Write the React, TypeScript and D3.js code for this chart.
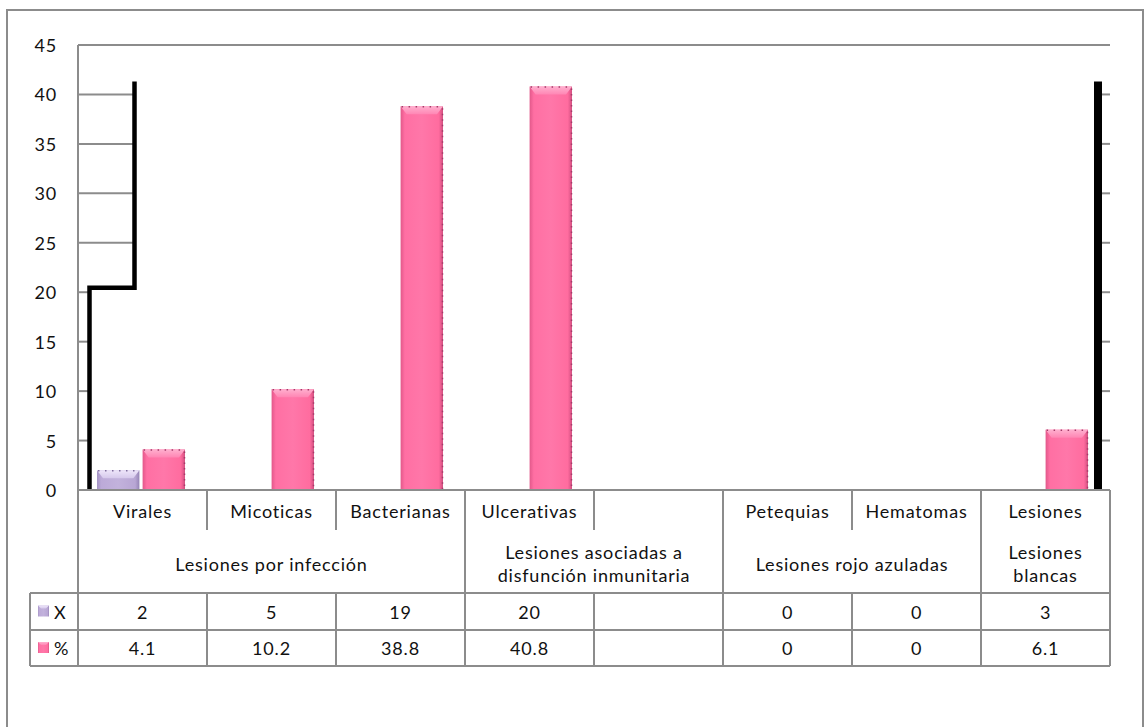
import React from "react";
import * as d3 from "d3";

// Subcategory columns (the fifth column is intentionally unnamed)
const categories = ["Virales", "Micoticas", "Bacterianas", "Ulcerativas", "", "Petequias", "Hematomas", "Lesiones"];
// Group headers and how many columns each one spans
const groupLabels = [["Lesiones por infección"], ["Lesiones asociadas a", "disfunción inmunitaria"], ["Lesiones rojo azuladas"], ["Lesiones", "blancas"]];
const groupSpans = [3, 2, 2, 1];
// Series
const seriesNames = ["X", "%"];
const countValues: (number | null)[] = [2, 5, 19, 20, null, 0, 0, 3];
const percentValues: (number | null)[] = [4.1, 10.2, 38.8, 40.8, null, 0, 0, 6.1];
const countBarShown = [true, false, false, false, false, false, false, false];
// Axis ticks
const yTicks = [0, 5, 10, 15, 20, 25, 30, 35, 40, 45];
// Levels of the black frame drawn over the plot
const frameLowLevel = 20.45;
const frameHighLevel = 41.3;

const FONT = "Lato, 'Open Sans', sans-serif";
const GRID = "#8c8c8c";

export default function App() {
  const W = 1146;
  const H = 727;
  const left = 78;
  const right = 1110;
  const top = 45;
  const base = 490;

  const x = d3
    .scaleBand<string>()
    .domain(categories.map((_, i) => String(i)))
    .range([left, right])
    .padding(0);
  const bw = x.bandwidth();
  const inner = d3.scaleBand<string>().domain(seriesNames).range([-45.5, 42.5]).paddingInner(0.07);
  const y = d3.scaleLinear().domain([0, 45]).range([base, top]);

  const catRowBottom = 530;
  const rowTop = 593;
  const rowMid = 630;
  const rowBot = 666;
  const tableLeft = 30;

  const colX = (i: number) => x(String(i)) as number;
  const center = (i: number) => colX(i) + bw / 2;

  const groupStarts: number[] = [];
  let acc = 0;
  groupSpans.forEach((s) => {
    groupStarts.push(acc);
    acc += s;
  });

  const frameLeftX = colX(0) + 11.5;
  const frameStepX = colX(0) + 56.5;
  const frameRightX = colX(7) + bw - 12;
  const yLow = y(frameLowLevel);
  const yHigh = y(frameHighLevel);

  // only the short stubs of each gridline that lie outside the framed panel
  const leftStubs = yTicks
    .filter((t) => t > 0 && t < frameHighLevel)
    .map((t) => ({ t, x2: t > frameLowLevel ? frameStepX : frameLeftX }));
  const rightStubs = yTicks.filter((t) => t > 0 && t < frameHighLevel);
  const fullLines = yTicks.filter((t) => t > frameHighLevel);

  const textStyle: React.CSSProperties = { fontFamily: FONT, fontSize: 18, letterSpacing: 0.8, fill: "#111" };

  const renderBar = (i: number, value: number, key: string, series: string) => {
    const bx = center(i) + (inner(series) as number);
    const w = inner.bandwidth();
    const by = y(value);
    const h = base - by;
    const isPink = series === "%";
    const body = isPink ? "url(#pinkBody)" : "url(#lavBody)";
    const cap = isPink ? "url(#pinkCap)" : "url(#lavCap)";
    const dot = isPink ? "#a53a68" : "#7e6d9c";
    const capH = Math.min(8, h);
    return (
      <g key={key}>
        <rect x={bx} y={by} width={w} height={h} fill={body} />
        <path d={`M${bx} ${by} H${bx + w} L${bx + w - 6} ${by + capH} H${bx + 6} Z`} fill={cap} />
        <line x1={bx + 1} x2={bx + w} y1={by + 0.5} y2={by + 0.5} stroke={dot} strokeWidth={1.5} strokeDasharray="1.5,5.5" />
        {isPink && (
          <line x1={bx + w - 0.5} x2={bx + w - 0.5} y1={by + 2} y2={base} stroke={dot} strokeWidth={1.5} strokeDasharray="1.5,4" />
        )}
      </g>
    );
  };

  return (
    <div style={{ position: "absolute", left: 0, top: 0, width: W, height: H, background: "#fff" }}>
      <svg width={W} height={H} viewBox={`0 0 ${W} ${H}`} style={{ display: "block" }}>
        <defs>
          <linearGradient id="pinkBody" x1="0" x2="1" y1="0" y2="0">
            <stop offset="0" stopColor="#e2588a" />
            <stop offset="0.1" stopColor="#ff6fa3" />
            <stop offset="0.5" stopColor="#ff77a9" />
            <stop offset="0.9" stopColor="#ff6c9f" />
            <stop offset="1" stopColor="#d24f80" />
          </linearGradient>
          <linearGradient id="pinkCap" x1="0" x2="0" y1="0" y2="1">
            <stop offset="0" stopColor="#ffb0cf" />
            <stop offset="1" stopColor="#ff86b4" />
          </linearGradient>
          <linearGradient id="lavBody" x1="0" x2="1" y1="0" y2="0">
            <stop offset="0" stopColor="#a493c4" />
            <stop offset="0.1" stopColor="#bcaad8" />
            <stop offset="0.5" stopColor="#c2b2dc" />
            <stop offset="0.9" stopColor="#b8a6d4" />
            <stop offset="1" stopColor="#9584b6" />
          </linearGradient>
          <linearGradient id="lavCap" x1="0" x2="0" y1="0" y2="1">
            <stop offset="0" stopColor="#eee6fa" />
            <stop offset="1" stopColor="#d6c9ec" />
          </linearGradient>
        </defs>

        {/* outer frame */}
        <rect x={7} y={10} width={1136} height={740} fill="none" stroke={GRID} strokeWidth={2} />

        {/* gridlines */}
        {fullLines.map((t) => (
          <line key={`f${t}`} x1={left} x2={right} y1={y(t)} y2={y(t)} stroke={GRID} strokeWidth={2} />
        ))}
        {leftStubs.map((s) => (
          <line key={`l${s.t}`} x1={left} x2={s.x2} y1={y(s.t)} y2={y(s.t)} stroke={GRID} strokeWidth={2} />
        ))}
        {rightStubs.map((t) => (
          <line key={`r${t}`} x1={frameRightX} x2={right} y1={y(t)} y2={y(t)} stroke={GRID} strokeWidth={2} />
        ))}

        {/* bars */}
        {categories.map((_, i) => {
          const out: React.ReactNode[] = [];
          const c = countValues[i];
          if (countBarShown[i] && c != null) out.push(renderBar(i, c, `c${i}`, "X"));
          const p = percentValues[i];
          if (p != null && p > 0) out.push(renderBar(i, p, `p${i}`, "%"));
          return out;
        })}

        {/* black frame */}
        <path
          d={`M${frameLeftX} ${base} V${yLow} H${frameStepX} V${yHigh}`}
          fill="none"
          stroke="#000"
          strokeWidth={4.5}
          strokeLinejoin="miter"
        />
        <line x1={frameRightX} x2={frameRightX} y1={yHigh} y2={base} stroke="#000" strokeWidth={8} />

        {/* axes */}
        <line x1={left} x2={left} y1={top} y2={rowBot} stroke={GRID} strokeWidth={2} />
        <line x1={left} x2={right} y1={base} y2={base} stroke={GRID} strokeWidth={2} />

        {/* y tick labels */}
        {yTicks.map((t) => (
          <text key={`t${t}`} x={57} y={y(t)} textAnchor="end" dominantBaseline="central" style={textStyle}>
            {t}
          </text>
        ))}

        {/* table grid */}
        <line x1={right} x2={right} y1={base} y2={rowBot} stroke={GRID} strokeWidth={2} />
        {categories.map((_, i) =>
          i === 0 ? null : (
            <line
              key={`v${i}`}
              x1={colX(i)}
              x2={colX(i)}
              y1={base}
              y2={groupStarts.includes(i) ? rowBot : catRowBottom}
              stroke={GRID}
              strokeWidth={2}
            />
          )
        )}
        {categories.map((_, i) =>
          i === 0 || groupStarts.includes(i) ? null : (
            <line key={`vd${i}`} x1={colX(i)} x2={colX(i)} y1={rowTop} y2={rowBot} stroke={GRID} strokeWidth={2} />
          )
        )}
        {[rowTop, rowMid, rowBot].map((ry) => (
          <line key={`h${ry}`} x1={tableLeft} x2={right} y1={ry} y2={ry} stroke={GRID} strokeWidth={2} />
        ))}
        <line x1={tableLeft} x2={tableLeft} y1={rowTop} y2={rowBot} stroke={GRID} strokeWidth={2} />

        {/* category labels */}
        {categories.map((c, i) => (
          <text key={`cl${i}`} x={center(i)} y={511} textAnchor="middle" dominantBaseline="central" style={textStyle}>
            {c}
          </text>
        ))}

        {/* group labels */}
        {groupLabels.map((lines, gi) => {
          const start = colX(groupStarts[gi]);
          const end = start + bw * groupSpans[gi];
          const cx = (start + end) / 2;
          const mid = 563.5;
          const lh = 23;
          return lines.map((ln, li) => (
            <text
              key={`gl${gi}-${li}`}
              x={cx}
              y={mid + (li - (lines.length - 1) / 2) * lh}
              textAnchor="middle"
              dominantBaseline="central"
              style={textStyle}
            >
              {ln}
            </text>
          ));
        })}

        {/* legend keys */}
        {seriesNames.map((s, si) => {
          const cy = si === 0 ? (rowTop + rowMid) / 2 : (rowMid + rowBot) / 2;
          const isPink = s === "%";
          return (
            <g key={`lk${s}`}>
              <rect x={38} y={cy - 6} width={11} height={11} fill={isPink ? "url(#pinkBody)" : "url(#lavBody)"} />
              <path d={`M38 ${cy - 6} H49 L46 ${cy - 3} H41 Z`} fill={isPink ? "url(#pinkCap)" : "url(#lavCap)"} />
              <text x={54} y={cy} dominantBaseline="central" style={textStyle}>
                {s}
              </text>
            </g>
          );
        })}

        {/* data values */}
        {[countValues, percentValues].map((vals, si) => {
          const cy = si === 0 ? (rowTop + rowMid) / 2 : (rowMid + rowBot) / 2;
          return vals.map((v, i) => (
            <text key={`dv${si}-${i}`} x={center(i)} y={cy} textAnchor="middle" dominantBaseline="central" style={textStyle}>
              {v == null ? "" : String(v)}
            </text>
          ));
        })}
      </svg>
    </div>
  );
}
